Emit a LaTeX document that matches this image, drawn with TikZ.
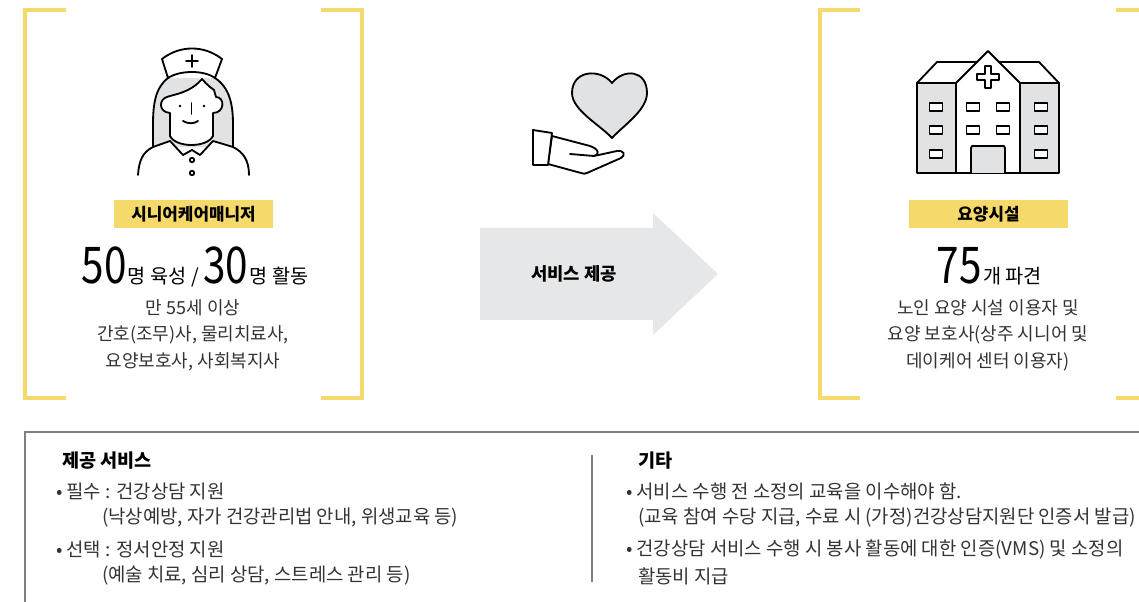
\documentclass[tikz,border=0pt]{standalone}
\usepackage{fontspec}
\usepackage{graphicx}
\setmainfont{Noto Sans CJK KR}
\usetikzlibrary{positioning}

\definecolor{barY}{HTML}{F5D96A}
\definecolor{iconGray}{HTML}{E1E2E4}
\definecolor{arrowGray}{HTML}{E6E7E8}
\definecolor{lineGray}{HTML}{7F7F7F}
\definecolor{txt}{HTML}{333333}

\newcommand{\bignum}[1]{{\fontsize{36}{36}\selectfont\scalebox{0.8}[1]{#1}}}

\begin{document}
\begin{tikzpicture}[x=0.025cm,y=-0.025cm,inner sep=0pt,outer sep=0pt,
frame/.style={draw=barY,line width=2.2pt},
icon/.style={draw=black,line width=1.3pt,line join=round,line cap=round},
tag/.style={fill=barY,minimum width=3.975cm,minimum height=0.7cm,font=\fontsize{12}{14}\selectfont\bfseries},
numline/.style={anchor=base,font=\fontsize{14}{16}\selectfont},
info/.style={align=center,text=txt,font=\fontsize{12.8}{18.8}\selectfont},
note/.style={anchor=west,text=txt,font=\fontsize{13.4}{15}\selectfont},
head/.style={anchor=west,font=\fontsize{13.2}{15}\selectfont\bfseries}]

\useasboundingbox (0,0) rectangle (1139,602);

% yellow brackets
\draw[frame] (66,10) -- (25,10) -- (25,398) -- (66,398);
\draw[frame] (321,10) -- (362,10) -- (362,398) -- (321,398);
\draw[frame] (860,10) -- (820,10) -- (820,398) -- (860,398);
\draw[frame] (1116,10) -- (1139,10);
\draw[frame] (1116,398) -- (1139,398);

% nurse
\fill[iconGray] (168,78) .. controls (155,88) and (153,105) .. (153,125) -- (153,147) -- (233,147) -- (233,125) .. controls (233,105) and (230,88) .. (215,78) -- cycle;
\draw[icon] (168,78) .. controls (155,88) and (153,105) .. (153,125) -- (153,147);
\draw[icon] (215,78) .. controls (230,88) and (233,105) .. (233,125) -- (233,147);
\draw[icon,fill=white] (138,175) .. controls (139,160) and (143,152) .. (153,147) -- (170,141) -- (183,155) -- (192,150) -- (200,155) -- (213,141) -- (233,147) .. controls (243,152) and (249,160) .. (249,175);
\draw[icon,fill=white] (202,79) .. controls (190,93) and (175,94) .. (167,97) .. controls (159,99) and (158,112) .. (170,113) -- (170,136) .. controls (176,148) and (207,148) .. (213,136) -- (213,113) .. controls (225,113) and (225,97) .. (216,97) -- (214,90) -- (210,87) .. controls (207,85) and (205,82) .. (202,79) -- cycle;
\fill (180,106) circle (1.4);
\fill (204,106) circle (1.4);
\draw[icon] (191.5,103) -- (191.5,114);
\draw[icon] (183,121) .. controls (188,124) and (194,124) .. (198,121);
\draw[icon] (192,160) circle (2.2);
\draw[icon] (192,173) circle (2.2);
\draw[icon,fill=white] (162,59) .. controls (180,45) and (204,45) .. (222,59) -- (215,78) .. controls (204,70) and (180,70) .. (168,78) -- cycle;
\draw[icon] (192,55) -- (192,67);
\draw[icon] (186,61) -- (198,61);

\node[tag] (nurseTag) at (193.5,214) {시니어케어매니저};
\node[numline] (nurseNum) at (195,284) {\bignum{50}\kern1pt 명 육성 / \bignum{30}\kern1pt 명 활동};
\node[info] (nurseInfo) at (193,335) {만 55세 이상\\간호(조무)사, 물리치료사,\\요양보호사, 사회복지사};

% heart in hand
\draw[icon,fill=iconGray] (612,83) .. controls (600,68) and (572,70) .. (572,93) .. controls (572,110) and (600,125) .. (612,138) .. controls (624,125) and (647,110) .. (647,93) .. controls (647,70) and (624,68) .. (612,83) -- cycle;
\draw[icon,fill=white] (552,136) -- (590,146) .. controls (599,149) and (600,155) .. (594,156) -- (617,151) .. controls (624,150) and (626,155) .. (621,158) -- (587,173) .. controls (585,174) and (583,174) .. (581,173) -- (548,164) -- cycle;
\draw[icon] (570,154) -- (594,156);
\draw[icon,fill=white] (533,130) -- (552,133) -- (548,165) -- (533,165) -- cycle;

% arrow
\fill[arrowGray] (480,228) -- (653,228) -- (653,213) -- (718,274) -- (653,335) -- (653,320) -- (480,320) -- cycle;
\node[font=\fontsize{12.6}{14}\selectfont\bfseries] (svc) at (574,274) {서비스 제공};

% care facility
\draw[icon,fill=white] (917,83) -- (937,62) -- (1039,62) -- (1059,83) -- cycle;
\draw[icon,fill=iconGray] (917,83) rectangle (956,173);
\draw[icon,fill=iconGray] (1020,83) rectangle (1059,173);
\draw[icon,fill=white] (956,173) -- (956,83) -- (988,51) -- (1020,83) -- (1020,173) -- cycle;
\draw[icon,fill=white] (985,66) -- (991,66) -- (991,74) -- (999,74) -- (999,80) -- (991,80) -- (991,88) -- (985,88) -- (985,80) -- (977,80) -- (977,74) -- (985,74) -- cycle;
\foreach \wx/\wy in {936/107,936/130,936/154,973/107,973/130,1003/107,1003/130,1041/107,1041/130,1041/154}
  \draw[icon,fill=white] (\wx-6.5,\wy-3.8) rectangle (\wx+6.5,\wy+3.8);
\draw[icon,fill=iconGray] (971,173) -- (971,148) -- (972,146) -- (1004,146) -- (1005,148) -- (1005,173);

\node[tag] (homeTag) at (988.5,214) {요양시설};
\node[numline] (homeNum) at (989.5,284) {\bignum{75}\kern1pt 개 파견};
\node[info] (homeInfo) at (988,335) {노인 요양 시설 이용자 및\\요양 보호사(상주 시니어 및\\데이케어 센터 이용자)};

% lower box
\draw[lineGray,line width=1.4pt] (1139,432) -- (25,432) -- (25,602);
\draw[lineGray,line width=1pt] (592,455) -- (592,582);

\node[head] (svcHead) at (62,461) {제공 서비스};
\node[note] (must) at (56,491) {• 필수 : 건강상담 지원};
\node[note] (mustEx) at (102,518) {(낙상예방, 자가 건강관리법 안내, 위생교육 등)};
\node[note] (opt) at (56,549) {• 선택 : 정서안정 지원};
\node[note] (optEx) at (102,576) {(예술 치료, 심리 상담, 스트레스 관리 등)};

\node[head] (etcHead) at (638,461) {기타};
\node[note] (edu) at (626,491) {• 서비스 수행 전 소정의 교육을 이수해야 함.};
\node[note] (eduEx) at (638,518) {(교육 참여 수당 지급, 수료 시 (가정)건강상담지원단 인증서 발급)};
\node[note] (vms) at (626,549) {• 건강상담 서비스 수행 시 봉사 활동에 대한 인증(VMS) 및 소정의};
\node[note] (pay) at (638,576) {활동비 지급};
\end{tikzpicture}
\end{document}
